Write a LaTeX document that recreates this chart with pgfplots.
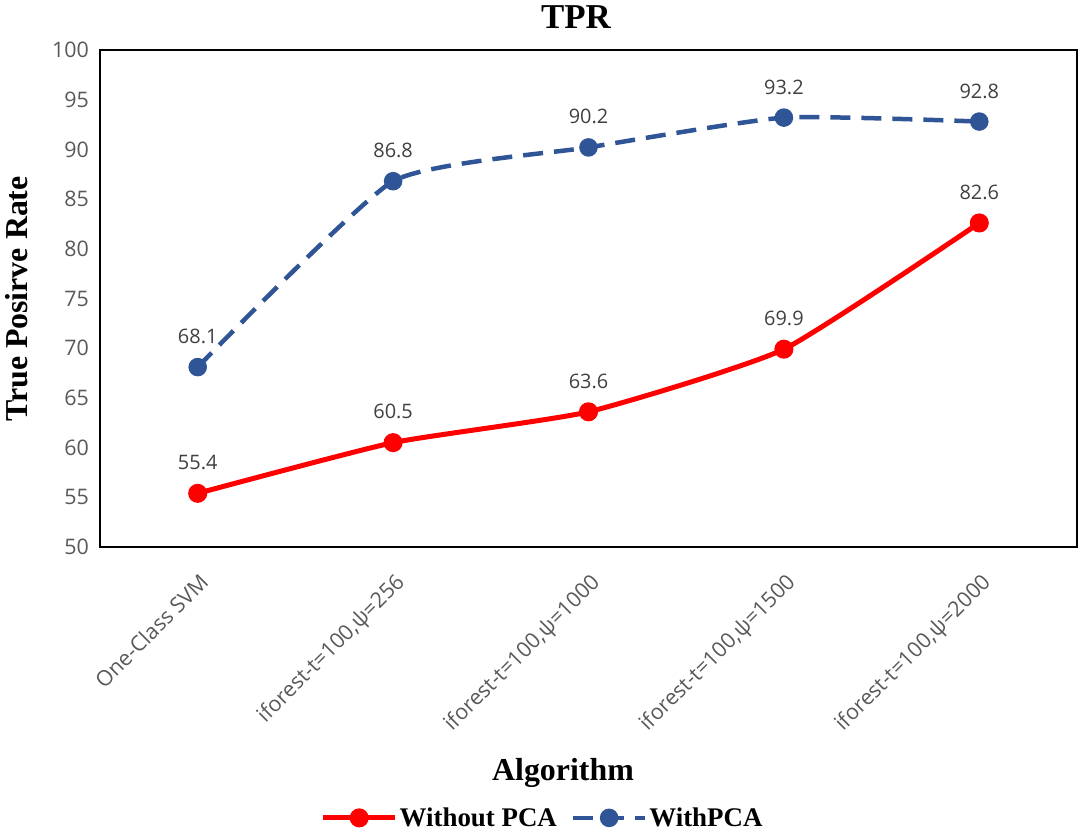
\documentclass[border=0pt]{standalone}
\usepackage{fontspec}
\setmainfont{Liberation Serif}
\newfontfamily\osans{Open Sans}
\usepackage{pgfplots}
\pgfplotsset{compat=1.18}
\definecolor{myred}{HTML}{FF0000}
\definecolor{myblue}{HTML}{2F5597}
\definecolor{tickgray}{HTML}{595959}
\definecolor{lblgray}{HTML}{404040}
\begin{document}
\begin{tikzpicture}
\path[use as bounding box] (-100bp,-287bp) rectangle (982bp,547bp);
\begin{axis}[
  at={(0,0)}, anchor=south west,
  scale only axis, width=977bp, height=497bp,
  xmin=-0.5, xmax=4.5, ymin=50, ymax=100,
  xtick={0,1,2,3,4},
  xticklabels={One-Class SVM,{iforest-t=100,ψ=256},{iforest-t=100,ψ=1000},{iforest-t=100,ψ=1500},{iforest-t=100,ψ=2000}},
  ytick={50,55,...,100},
  major tick length=0,
  axis line style={line width=1.5bp},
  ticklabel style={font=\osans\fontsize{21.5}{21.5}\selectfont, text=tickgray},
  /pgf/number format/assume math mode=true,
  xticklabel style={rotate=45, anchor=north east, inner sep=0pt, xshift=-17bp, yshift=-18bp},
  yticklabel style={inner sep=0pt, xshift=-11bp},
  nodes near coords,
  nodes near coords style={font=\osans\fontsize{20}{20}\selectfont, text=lblgray, anchor=south, inner sep=0pt, yshift=21bp,
    /pgf/number format/fixed, /pgf/number format/fixed zerofill, /pgf/number format/precision=1},
  legend style={at={(0.453,-0.545)}, anchor=center, legend columns=2, draw=none, fill=none,
    font=\bfseries\fontsize{27}{27}\selectfont,
    /tikz/every even column/.append style={column sep=12bp}},
  legend image code/.code={\draw[mark repeat=2, mark phase=2] plot coordinates {(0bp,0bp) (36bp,0bp) (72bp,0bp)};},
  clip=false,
]
\addplot[color=myred, line width=5bp, smooth, tension=0.3, mark=*, mark size=7bp, mark options={solid, fill=myred}]
  coordinates {(0,55.4) (1,60.5) (2,63.6) (3,69.9) (4,82.6)};
\addlegendentry{Without PCA}
\addplot[color=myblue, line width=4.5bp, dash pattern=on 20bp off 11bp, smooth, tension=0.3, mark=*, mark size=7bp, mark options={solid, fill=myblue}]
  coordinates {(0,68.1) (1,86.8) (2,90.2) (3,93.2) (4,92.8)};
\addlegendentry{WithPCA}
\end{axis}
\node[font=\bfseries\fontsize{35}{35}\selectfont] at (476bp,530bp) {TPR};
\node[rotate=90, font=\bfseries\fontsize{32}{32}\selectfont] at (-83bp,248bp) {True Posirve Rate};
\node[font=\bfseries\fontsize{32}{32}\selectfont] at (463bp,-226bp) {Algorithm};
\end{tikzpicture}
\end{document}
